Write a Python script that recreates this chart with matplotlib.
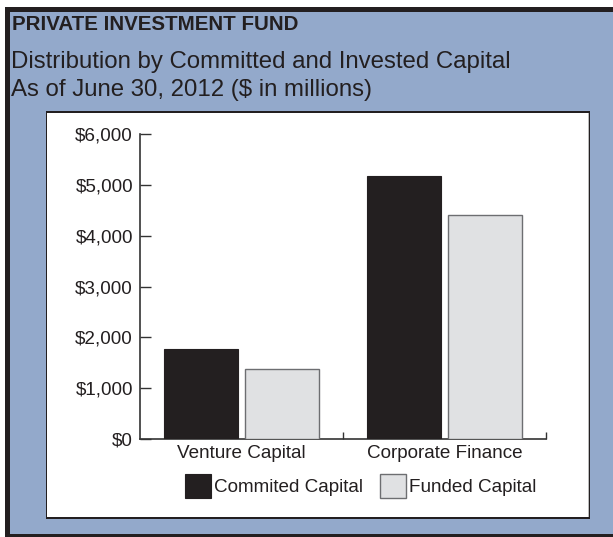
import matplotlib
matplotlib.use("Agg")
import matplotlib.pyplot as plt
from matplotlib.patches import Rectangle
import numpy as np

categories = ["Venture Capital", "Corporate Finance"]
committed = [1765, 5165]
funded = [1370, 4410]
series_names = ["Commited Capital", "Funded Capital"]
yticks = [0, 1000, 2000, 3000, 4000, 5000, 6000]
ytick_labels = ["$0", "$1,000", "$2,000", "$3,000", "$4,000", "$5,000", "$6,000"]

W, H = 613, 537
BLUE = "#93A9CB"
DARK = "#231F20"
LIGHT = "#E0E1E3"
EDGE = "#6D6E71"
FS = 13.6

plt.rcParams["font.family"] = ["Liberation Sans", "DejaVu Sans"]

fig = plt.figure(figsize=(W / 100, H / 100), dpi=100, facecolor="white")

def rect_px(x0, y0, x1, y1, **kw):
    r = Rectangle((x0 / W, 1 - y1 / H), (x1 - x0) / W, (y1 - y0) / H,
                  transform=fig.transFigure, **kw)
    fig.add_artist(r)
    return r

# outer blue panel with dark border (top, left, bottom)
rect_px(0, 0, W, H, facecolor="white", edgecolor="none", zorder=0)
rect_px(5, 7, W, 537, facecolor=DARK, edgecolor="none", zorder=0)
rect_px(10, 12, W, 534, facecolor=BLUE, edgecolor="none", zorder=0)
# white inner panel
rect_px(46, 111, 590, 519, facecolor=DARK, edgecolor="none", zorder=0)
rect_px(47, 113, 589, 517, facecolor="white", edgecolor="none", zorder=0)
rect_px(588, 113, 589, 517, facecolor="#BBBBBB", edgecolor="none", zorder=0)

# titles
fig.text(12 / W, 1 - 25 / H, "PRIVATE INVESTMENT FUND", fontsize=14.8, fontweight="bold",
         color=DARK, va="center", ha="left")
fig.text(11 / W, 1 - 62 / H, "Distribution by Committed and Invested Capital", fontsize=17.3,
         color=DARK, va="center", ha="left")
fig.text(11 / W, 1 - 90 / H, "As of June 30, 2012 ($ in millions)", fontsize=17.3,
         color=DARK, va="center", ha="left")

# axes
ax_l, ax_r, ax_t, ax_b = 140, 546, 134, 439
ax = fig.add_axes([ax_l / W, 1 - ax_b / H, (ax_r - ax_l) / W, (ax_b - ax_t) / H])
ax.set_facecolor("none")

x = np.arange(len(categories)) + 0.5
bw = 0.365
off = 0.2
b1 = ax.bar(x - off, committed, bw, color=DARK, edgecolor=DARK, linewidth=0.8,
            label=series_names[0], zorder=3)
b2 = ax.bar(x + off, funded, bw, color=LIGHT, edgecolor=EDGE, linewidth=1.0,
            label=series_names[1], zorder=3)

ax.set_xlim(0, len(categories))
ax.set_ylim(0, 6000)
for s in ["top", "right"]:
    ax.spines[s].set_visible(False)
for s in ["left", "bottom"]:
    ax.spines[s].set_color("#333333")
    ax.spines[s].set_linewidth(1.2)

ax.set_yticks(yticks)
ax.set_yticklabels(ytick_labels)
ax.tick_params(axis="y", direction="in", length=8, width=1, color="#333333",
               labelsize=FS, labelcolor=DARK, pad=5)
ax.set_xticks(x)
ax.set_xticklabels(categories)
ax.tick_params(axis="x", length=0, labelsize=FS, labelcolor=DARK, pad=4)
ax.set_xticks(np.arange(1, len(categories) + 1), minor=True)
ax.tick_params(axis="x", which="minor", direction="in", length=5, width=1, color="#333333")

leg = ax.legend(handles=[b1, b2], loc="center",
                bbox_to_anchor=((360.5 - ax_l) / (ax_r - ax_l), -(486 - ax_b) / (ax_b - ax_t)),
                ncol=2, frameon=False, fontsize=FS, handlelength=1.38, handleheight=1.59,
                handletextpad=0.16, columnspacing=0.9, borderaxespad=0, borderpad=0)
for t in leg.get_texts():
    t.set_color(DARK)

fig.savefig("out.png", dpi=100, facecolor=fig.get_facecolor())
